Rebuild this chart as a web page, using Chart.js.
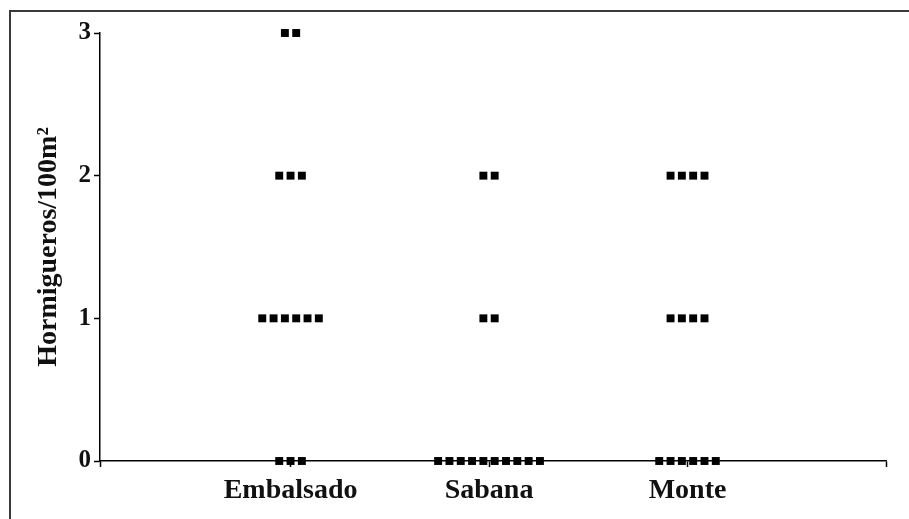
<!DOCTYPE html>
<html lang="es">
<head>
  <meta charset="UTF-8">
  <title>Hormigueros por ambiente</title>
  <script src="https://cdn.jsdelivr.net/npm/chart.js"></script>
  <style>
    html, body {
      margin: 0;
      padding: 0;
      background: #fff;
      overflow: hidden;
    }

    #wrap {
      position: relative;
      width: 909px;
      height: 519px;
    }

    #frame {
      position: absolute;
      left: 9px;
      top: 10px;
      width: 1200px;
      height: 1200px;
      border: 2px solid #3a3a3a;
      pointer-events: none;
    }

    canvas {
      position: absolute;
      left: 0;
      top: 0;
    }
  </style>
</head>
<body>
  <div id="wrap">
    <div id="frame"></div>
    <canvas id="dotChart" width="909" height="519"></canvas>
  </div>

  <script>
    // ambientes, en el orden del eje x
    const categories = ['Embalsado', 'Sabana', 'Monte'];
    // valores posibles de hormigueros/100m2
    const levels = [0, 1, 2, 3];
    // cantidad de parcelas con cada valor (0, 1, 2, 3)
    const embalsado = [3, 6, 3, 2];
    const sabana = [10, 2, 2, 0];
    const monte = [6, 4, 4, 0];
    const yTicks = [0, 1, 2, 3];

    const counts = [embalsado, sabana, monte];
    const spread = 0.057; // separacion horizontal entre puntos repetidos
    const xMin = 0.04, xMax = 4;

    const points = [];
    counts.forEach((group, g) => {
      group.forEach((n, i) => {
        for (let j = 0; j < n; j++) {
          points.push({ x: g + 1 + (j - (n - 1) / 2) * spread, y: levels[i] });
        }
      });
    });

    const serif = "'Liberation Serif', 'Times New Roman', serif";

    new Chart(document.getElementById('dotChart'), {
      type: 'scatter',
      data: {
        datasets: [{
          data: points,
          pointStyle: 'rect',
          pointRadius: 5.6,
          pointHoverRadius: 5.6,
          backgroundColor: '#000',
          borderColor: '#000',
          borderWidth: 0,
          clip: false
        }]
      },
      options: {
        responsive: false,
        animation: false,
        layout: { padding: { top: 33, right: 23, left: 0, bottom: 0 } },
        plugins: {
          legend: { display: false },
          tooltip: { enabled: false }
        },
        scales: {
          x: {
            type: 'linear',
            min: xMin,
            max: xMax,
            afterBuildTicks: s => {
              s.ticks = [xMin, 1, 2, 3, xMax].map(v => ({ value: v }));
            },
            afterFit: s => { s.height = 58; },
            grid: {
              drawOnChartArea: false,
              drawTicks: true,
              tickLength: 6,
              tickWidth: 1.5,
              tickColor: '#000'
            },
            border: { display: true, color: '#000', width: 1.5 },
            ticks: {
              autoSkip: false,
              maxRotation: 0,
              padding: 7,
              color: '#111',
              font: { family: serif, size: 28, weight: 'bold' },
              callback: v => (Number.isInteger(v) && v >= 1 && v <= 3) ? categories[v - 1] : ''
            }
          },
          y: {
            min: 0,
            max: 3,
            afterBuildTicks: s => {
              s.ticks = yTicks.map(v => ({ value: v }));
            },
            afterFit: s => { s.width = 100; },
            grid: {
              drawOnChartArea: false,
              drawTicks: true,
              tickLength: 6,
              tickWidth: 1.5,
              tickColor: '#000'
            },
            border: { display: true, color: '#000', width: 1.5 },
            ticks: {
              padding: 3,
              color: '#111',
              font: { family: serif, size: 25, weight: 'bold' }
            },
            title: {
              display: true,
              text: 'Hormigueros/100m²',
              color: '#111',
              padding: { top: 32, bottom: 0 },
              font: { family: serif, size: 28, weight: 'bold' }
            }
          }
        }
      }
    });
  </script>
</body>
</html>
